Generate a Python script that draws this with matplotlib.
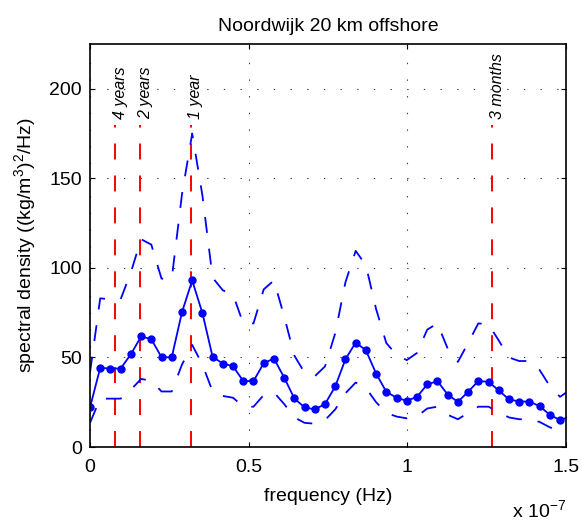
import matplotlib
matplotlib.use("Agg")
import matplotlib.pyplot as plt
import numpy as np

plt.rcParams["font.family"] = ["Liberation Sans", "DejaVu Sans"]
plt.rcParams["mathtext.fontset"] = "custom"
plt.rcParams["mathtext.rm"] = "Liberation Sans"
plt.rcParams["mathtext.it"] = "Liberation Sans:italic"
plt.rcParams["lines.scale_dashes"] = False

# spectral density estimate and confidence band
psd = [22.1, 44.2, 43.8, 43.8, 51.8, 61.7, 60.2, 50.1, 50.1, 75.2,
       93.0, 74.8, 50.3, 46.6, 45.1, 36.8, 36.8, 46.8, 49.4, 38.8,
       27.1, 22.1, 21.0, 24.0, 33.8, 49.0, 58.3, 54.0, 41.0, 30.8,
       27.5, 25.8, 28.0, 34.9, 36.8, 29.3, 25.2, 30.8, 36.8, 36.4,
       31.6, 26.6, 25.4, 25.4, 22.8, 18.0, 15.0, 17.0]
upper = [41.5, 83, 82.5, 82.5, 97.5, 116, 113, 94, 94, 141,
         175, 140.5, 94.5, 87.5, 85, 69, 69, 88, 93, 73,
         51, 41.5, 39.5, 45, 63.5, 92, 109.5, 101.5, 77, 58,
         51.5, 48.5, 52.5, 65.5, 69, 55, 47.5, 58, 69, 68.5,
         59.5, 50, 48, 48, 43, 34, 28, 32]
lower = [13.5, 27, 27, 27, 32, 38, 37, 31, 31, 46,
         57, 46, 31, 28.5, 27.5, 22.5, 22.5, 29, 30.5, 24,
         16.5, 13.5, 13, 15, 21, 30, 36, 33, 25, 19,
         17, 16, 17, 21.5, 22.5, 18, 15.5, 19, 22.5, 22.5,
         19.5, 16.5, 15.5, 15.5, 14, 11, 9, 10.5]
freq_step = 3.22e-9  # Hz between spectral estimates

period_labels = ["4 years", "2 years", "1 year", "3 months"]
period_days = [4 * 365.25, 2 * 365.25, 365.25, 365.25 / 4]
marker_top = 180

xticks = [0, 0.5e-7, 1e-7, 1.5e-7]
xticklabels = ["0", "0.5", "1", "1.5"]
yticks = [0, 50, 100, 150, 200]

freq = np.arange(len(psd)) * freq_step
period_freq = [1 / (d * 86400) for d in period_days]

fig = plt.figure(figsize=(5.82, 5.20), dpi=100)
ax = fig.add_axes([90 / 582, 73 / 520, 476 / 582, 403 / 520])

dash = (0, (11.5, 11.5))
for f, label in zip(period_freq, period_labels):
    ax.plot([f, f], [0, marker_top], color="red", linestyle=dash, linewidth=1.4)
    ax.annotate(label, xy=(f, marker_top), xytext=(3.5, 4), textcoords="offset points",
                rotation=90, ha="center", va="bottom", fontsize=11.5, fontstyle="italic")

ax.plot(freq, upper, color="blue", linestyle=dash, linewidth=1.3)
ax.plot(freq, lower, color="blue", linestyle=dash, linewidth=1.3)
ax.plot(freq, psd, color="blue", linewidth=1.3, marker="o", markersize=5)

ax.set_xlim(0, 1.5e-7)
ax.set_ylim(0, 225)
ax.set_xticks(xticks)
ax.set_xticklabels(xticklabels)
ax.set_yticks(yticks)
ax.tick_params(direction="in", top=True, right=True, length=3.6, width=0.8,
               labelsize=14)
ax.tick_params(axis="x", pad=9)
ax.tick_params(axis="y", pad=6)
ax.grid(True, color="0.25", linestyle=(0, (1, 11)), linewidth=0.8)
for s in ax.spines.values():
    s.set_linewidth(1.2)

ax.set_title("Noordwijk 20 km offshore", fontsize=14, pad=9)
ax.set_xlabel("frequency (Hz)", fontsize=14, labelpad=8)
ax.set_ylabel(r"spectral density ((kg/m$^3$)$^2$/Hz)", fontsize=14, labelpad=8)
fig.text(566 / 582, 3 / 520, r"x 10$^{\mathrm{-7}}$", ha="right", va="baseline",
         fontsize=14)

fig.savefig("out.png", dpi=100)
